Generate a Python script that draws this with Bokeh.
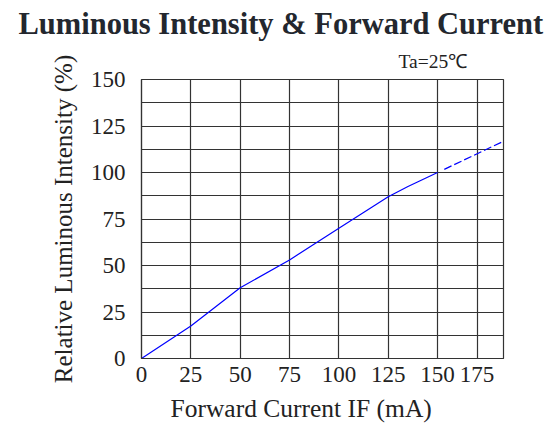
from bokeh.plotting import figure
from bokeh.models import Range1d, FixedTicker, Title
from bokeh.embed import file_html
from bokeh.resources import INLINE

# data
if_solid = [0, 25, 50, 75, 100, 125, 135, 150]
iv_solid = [0, 17.5, 38, 53, 70, 87, 92.5, 100]
if_dash = [153.4, 183.4]
iv_dash = [101.7, 116.8]

x_ticks = [0, 25, 50, 75, 100, 125, 150, 170]
x_tick_labels = ["0", "25", "50", "75", "100", "125", "150", "175"]
y_ticks = [0, 25, 50, 75, 100, 125, 150]
y_minor = [12.5, 37.5, 62.5, 87.5, 112.5, 137.5]

FONT = "Liberation Serif"
GRID = "#333333"

p = figure(width=554, height=430, output_backend="svg", toolbar_location=None,
           title=None,
           x_range=Range1d(0, 183.4), y_range=Range1d(0, 150),
           min_border_left=141, min_border_right=51, min_border_top=79, min_border_bottom=72)
p.background_fill_color = "white"
p.border_fill_color = "white"
p.outline_line_color = GRID
p.outline_line_width = 1.2
p.outline_line_alpha = 1

p.xaxis.ticker = FixedTicker(ticks=x_ticks)
p.xaxis.major_label_overrides = {t: l for t, l in zip(x_ticks, x_tick_labels)}
p.yaxis.ticker = FixedTicker(ticks=y_ticks, minor_ticks=y_minor)

for ax in (p.xaxis, p.yaxis):
    ax.major_tick_line_color = None
    ax.minor_tick_line_color = None
    ax.axis_line_color = GRID
    ax.axis_line_width = 1.2
    ax.major_label_text_font = FONT
    ax.major_label_text_font_size = "23px"
    ax.major_label_text_color = "#222222"
    ax.axis_label_text_font = FONT
    ax.axis_label_text_font_style = "normal"
    ax.axis_label_text_font_size = "25px"
    ax.axis_label_text_color = "#222222"

p.xaxis.major_label_standoff = 2
p.yaxis.major_label_standoff = 10
p.yaxis.axis_label = "Relative Luminous Intensity (%)"
p.yaxis.axis_label_standoff = 11

p.xgrid.grid_line_color = GRID
p.xgrid.grid_line_width = 1.2
p.xgrid.grid_line_alpha = 1
p.ygrid.grid_line_color = GRID
p.ygrid.grid_line_width = 1.2
p.ygrid.grid_line_alpha = 1
p.ygrid.minor_grid_line_color = GRID
p.ygrid.minor_grid_line_width = 1.2

p.line(if_solid, iv_solid, line_color="#0000ff", line_width=1.2)
p.line(if_dash, iv_dash, line_color="#0000ff", line_width=1.2, line_dash="8 3")

p.add_layout(Title(text="Ta=25℃", align="left", offset=257,
                   text_font=FONT, text_font_style="normal", text_font_size="19.5px",
                   text_color="#222222", standoff=16), "above")
p.add_layout(Title(text="Luminous Intensity & Forward Current", align="left", offset=-123,
                   text_font=FONT, text_font_style="bold", text_font_size="30.5px",
                   text_color="#23272e", standoff=0), "above")
p.add_layout(Title(text="Forward Current IF (mA)", align="left", offset=29,
                   text_font=FONT, text_font_style="normal", text_font_size="25.5px",
                   text_color="#222222", standoff=15), "below")

open("out.html", "w").write(file_html(p, INLINE))
